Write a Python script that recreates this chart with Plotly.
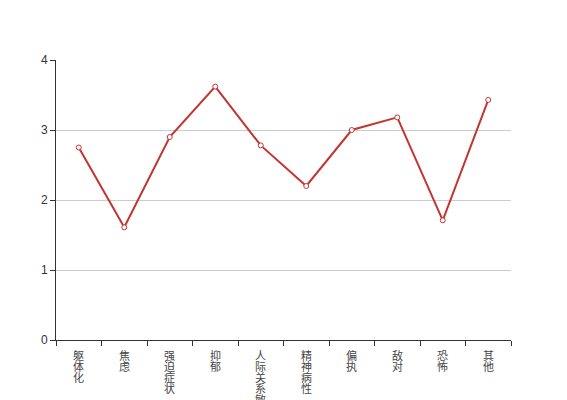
import plotly.graph_objects as go

categories = ["躯体化", "焦虑", "强迫症状", "抑郁", "人际关系敏感", "精神病性", "偏执", "敌对", "恐怖", "其他"]
values = [2.75, 1.61, 2.90, 3.62, 2.78, 2.20, 3.00, 3.18, 1.71, 3.43]
y_ticks = [0, 1, 2, 3, 4]

fig = go.Figure()
fig.add_trace(go.Scatter(
    x=categories, y=values, mode="lines+markers",
    line=dict(color="#c23531", width=2),
    marker=dict(symbol="circle", size=5, color="white",
                line=dict(color="#c23531", width=1)),
    hoverinfo="x+y", showlegend=False,
))

# vertical (stacked) category labels, one character per line
annotations = []
for cat in categories:
    for i, ch in enumerate(cat):
        annotations.append(dict(
            x=cat, y=0, xref="x", yref="y", text=ch, showarrow=False,
            yanchor="middle", xanchor="center", yshift=-(15 + 11 * i),
            font=dict(family="Noto Sans CJK SC", size=11, color="#444"),
        ))

# the page body has an 8px default margin; compensate in the plot margins
fig.update_layout(
    width=567, height=400,
    margin=dict(l=48, r=64, t=52, b=68),
    paper_bgcolor="white", plot_bgcolor="white",
    annotations=annotations,
    xaxis=dict(
        type="category", range=[-0.5, 9.5], showticklabels=False,
        tickson="boundaries", ticks="outside", ticklen=5, tickcolor="#333",
        showline=True, linecolor="#333", linewidth=1, showgrid=False,
        zeroline=False,
    ),
    yaxis=dict(
        range=[0, 4], tickvals=y_ticks, ticks="outside", ticklen=5,
        tickcolor="#333", showline=True, linecolor="#333", linewidth=1,
        showgrid=True, gridcolor="#ccc", gridwidth=1, zeroline=False,
        tickfont=dict(family="Liberation Sans, Arial", size=12, color="#333"),
    ),
)

fig.write_html("out.html")
